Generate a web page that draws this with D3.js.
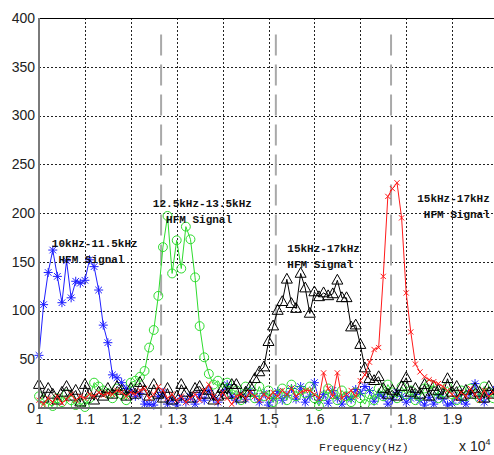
<!DOCTYPE html>
<html>
<head>
<meta charset="utf-8">
<script src="https://cdn.jsdelivr.net/npm/d3@7"></script>
<style>
  body { margin: 0; background: #fff; }
  svg { display: block; }
</style>
</head>
<body>
<div id="chart"></div>
<script>
// frequency bins (x 10^4 Hz)
const freqs = [1.00,1.01,1.02,1.03,1.04,1.05,1.06,1.07,1.08,1.09,1.10,1.11,1.12,1.13,1.14,1.15,1.16,1.17,1.18,1.19,
  1.20,1.21,1.22,1.23,1.24,1.25,1.26,1.27,1.28,1.29,1.30,1.31,1.32,1.33,1.34,1.35,1.36,1.37,1.38,1.39,
  1.40,1.41,1.42,1.43,1.44,1.45,1.46,1.47,1.48,1.49,1.50,1.51,1.52,1.53,1.54,1.55,1.56,1.57,1.58,1.59,
  1.60,1.61,1.62,1.63,1.64,1.65,1.66,1.67,1.68,1.69,1.70,1.71,1.72,1.73,1.74,1.75,1.76,1.77,1.78,1.79,
  1.80,1.81,1.82,1.83,1.84,1.85,1.86,1.87,1.88,1.89,1.90,1.91,1.92,1.93,1.94,1.95,1.96,1.97,1.98,1.99,2.00];

// 10kHz-11.5kHz (blue *)
const blueVals = [54,106,139,162,135,108,151,113,130,128,131,152,145,121,85,67,34,31,26,20,
  17,12,15,4,4,3,12,16,4,8,3,10,6,12,4,14,8,18,10,6,
  16,24,12,8,14,9,18,12,6,15,3,10,17,8,13,20,9,22,6,12,
  26,8,14,5,18,10,4,12,9,19,15,22,18,7,14,12,4,9,16,12,
  6,10,14,8,3,11,4,13,9,3,5,12,8,4,15,25,10,6,14,18,12];

// 12.5kHz-13.5kHz (green o)
const greenVals = [12,8,4,2,10,6,14,8,3,5,1,10,26,22,18,15,10,20,14,8,
  26,28,32,38,62,80,115,165,197,138,172,143,186,173,134,84,52,35,24,28,
  20,26,14,18,8,22,16,10,22,12,18,6,14,20,8,24,12,18,15,22,
  10,2,12,20,14,8,18,12,6,16,10,4,14,8,20,12,24,16,10,22,
  14,18,8,12,20,24,18,10,16,22,14,8,18,12,20,14,10,22,16,10,14];

// 15kHz-17kHz (black triangles)
const blackVals = [24,10,20,14,8,16,22,12,18,6,24,14,8,16,12,20,14,22,18,12,
  20,14,26,18,12,24,14,10,20,8,12,24,16,10,20,22,14,18,8,12,
  20,14,24,24,10,16,22,30,37,42,68,84,100,109,132,107,102,138,123,97,
  119,114,118,115,117,131,113,113,83,85,65,41,30,28,32,20,14,18,12,22,
  31,16,20,14,24,12,22,18,14,30,16,22,12,18,14,20,16,10,22,14,18];

// 15kHz-17kHz (red x)
const redVals = [8,4,10,6,12,5,9,14,8,12,10,14,12,16,13,15,14,18,16,12,
  16,14,18,20,10,14,22,18,10,14,8,12,6,10,14,8,18,24,12,6,
  16,10,4,12,14,10,16,12,8,14,10,16,12,18,14,20,12,16,18,18,
  14,10,36,20,12,36,10,14,18,12,28,34,47,60,62,135,217,225,231,195,
  118,78,45,37,32,29,27,25,22,18,14,10,16,12,20,14,8,18,12,16,10];

const yTicks = [0, 50, 100, 150, 200, 250, 300, 350, 400];
const xTicks = [1, 1.1, 1.2, 1.3, 1.4, 1.5, 1.6, 1.7, 1.8, 1.9];
const bandEdges = [1.266, 1.516, 1.767];

const annotations = [
  { lines: ["10kHz-11.5kHz", " HFM Signal"], f: 1.028, v: 165 },
  { lines: ["12.5kHz-13.5kHz", "  HFM Signal"], f: 1.248, v: 206 },
  { lines: ["15kHz-17kHz", "HFM Signal"], f: 1.541, v: 160 },
  { lines: ["15kHz-17kHz", " HFM Signal"], f: 1.824, v: 211 }
];

const series = [
  { name: "blue", color: "#1f1fff", values: blueVals, marker: "star" },
  { name: "green", color: "#2edc2e", values: greenVals, marker: "circle" },
  { name: "black", color: "#000000", values: blackVals, marker: "triangle" },
  { name: "red", color: "#ff1a1a", values: redVals, marker: "cross" }
];

const width = 494, height = 455;
const margin = { top: 18, left: 39, bottom: 47 };
const plotRight = 498;

const svg = d3.select("#chart").append("svg")
  .attr("width", width)
  .attr("height", height);

const x = d3.scaleLinear().domain([1, 2]).range([margin.left, plotRight]);
const y = d3.scaleLinear().domain([0, 400]).range([height - margin.bottom, margin.top]);

// grid (dotted)
const grid = svg.append("g").attr("class", "grid")
  .attr("stroke", "#222").attr("stroke-width", 1).attr("stroke-dasharray", "2,2");
grid.selectAll("line.gx").data(xTicks.slice(1)).enter().append("line")
  .attr("class", "gx")
  .attr("x1", d => Math.round(x(d)) + 0.5).attr("x2", d => Math.round(x(d)) + 0.5)
  .attr("y1", y(400)).attr("y2", y(0));
grid.selectAll("line.gy").data(yTicks.slice(1, -1)).enter().append("line")
  .attr("class", "gy")
  .attr("x1", x(1)).attr("x2", plotRight)
  .attr("y1", d => Math.round(y(d)) + 0.5).attr("y2", d => Math.round(y(d)) + 0.5);

// grey dashed band markers
svg.append("g").selectAll("line").data(bandEdges).enter().append("line")
  .attr("x1", d => x(d)).attr("x2", d => x(d))
  .attr("y1", y(383)).attr("y2", y(-20.5))
  .attr("stroke", "#a9a9a9").attr("stroke-width", 2)
  .attr("stroke-dasharray", "21,9");

// series lines + markers
const line = d3.line()
  .x((d, i) => x(freqs[i]))
  .y(d => y(d));

function markerPath(type) {
  if (type === "star") {
    const r = 4.5, q = 3.3;
    return `M${-r},0L${r},0M0,${-r}L0,${r}M${-q},${-q}L${q},${q}M${-q},${q}L${q},${-q}`;
  }
  if (type === "cross") {
    const r = 2.6;
    return `M${-r},${-r}L${r},${r}M${-r},${r}L${r},${-r}`;
  }
  if (type === "triangle") {
    return "M0,-6L5.5,3.8L-5.5,3.8Z";
  }
  return d3.symbol(d3.symbolCircle, 62)();
}

series.forEach(s => {
  const g = svg.append("g").attr("class", "series " + s.name);
  g.append("path")
    .datum(s.values)
    .attr("d", line)
    .attr("fill", "none")
    .attr("stroke", s.color)
    .attr("stroke-width", 1);
  g.selectAll("path.mk").data(s.values).enter().append("path")
    .attr("class", "mk")
    .attr("transform", (d, i) => `translate(${x(freqs[i])},${y(d)})`)
    .attr("d", markerPath(s.marker))
    .attr("fill", "none")
    .attr("stroke", s.color)
    .attr("stroke-width", 1);
});

// axes frame
svg.append("line")
  .attr("x1", x(1)).attr("x2", width).attr("y1", margin.top + 0.5).attr("y2", margin.top + 0.5)
  .attr("stroke", "#000").attr("stroke-width", 1);
svg.append("line")
  .attr("x1", x(1)).attr("x2", x(1)).attr("y1", margin.top).attr("y2", y(0) + 1)
  .attr("stroke", "#7a7a7a").attr("stroke-width", 2);
svg.append("line")
  .attr("x1", x(1) - 1).attr("x2", width).attr("y1", y(0)).attr("y2", y(0))
  .attr("stroke", "#6a6a6a").attr("stroke-width", 2);

// tick labels
const yAxis = svg.append("g")
  .attr("transform", `translate(${x(1)},0)`)
  .call(d3.axisLeft(y).tickValues(yTicks).tickSize(0).tickPadding(4));
const xAxis = svg.append("g")
  .attr("transform", `translate(0,${y(0)})`)
  .call(d3.axisBottom(x).tickValues(xTicks).tickSize(0).tickPadding(6)
    .tickFormat(d => d === 1 ? "1" : d3.format(".1f")(d)));
[yAxis, xAxis].forEach(a => {
  a.select(".domain").remove();
  a.selectAll("text")
    .attr("fill", "#222")
    .style("font-family", "Liberation Sans, Arial, sans-serif")
    .style("font-size", "14px");
});

// axis label + exponent
svg.append("text")
  .attr("x", 319).attr("y", 451)
  .style("font-family", "Liberation Mono, monospace")
  .style("font-size", "11.5px")
  .attr("fill", "#222")
  .text("Frequency(Hz)");
const expo = svg.append("text")
  .attr("x", 459).attr("y", 451)
  .style("font-family", "Liberation Sans, Arial, sans-serif")
  .style("font-size", "14px")
  .attr("fill", "#222");
expo.append("tspan").text("x 10");
expo.append("tspan").attr("dy", -6).style("font-size", "9px").text("4");

// annotations
annotations.forEach(a => {
  const t = svg.append("text")
    .attr("x", x(a.f)).attr("y", y(a.v))
    .style("font-family", "Liberation Mono, monospace")
    .style("font-size", "11px")
    .style("font-weight", "bold")
    .style("white-space", "pre")
    .attr("fill", "#111");
  a.lines.forEach((ln, i) => {
    t.append("tspan").attr("x", x(a.f)).attr("dy", i === 0 ? 0 : 16).text(ln);
  });
});
</script>
</body>
</html>
